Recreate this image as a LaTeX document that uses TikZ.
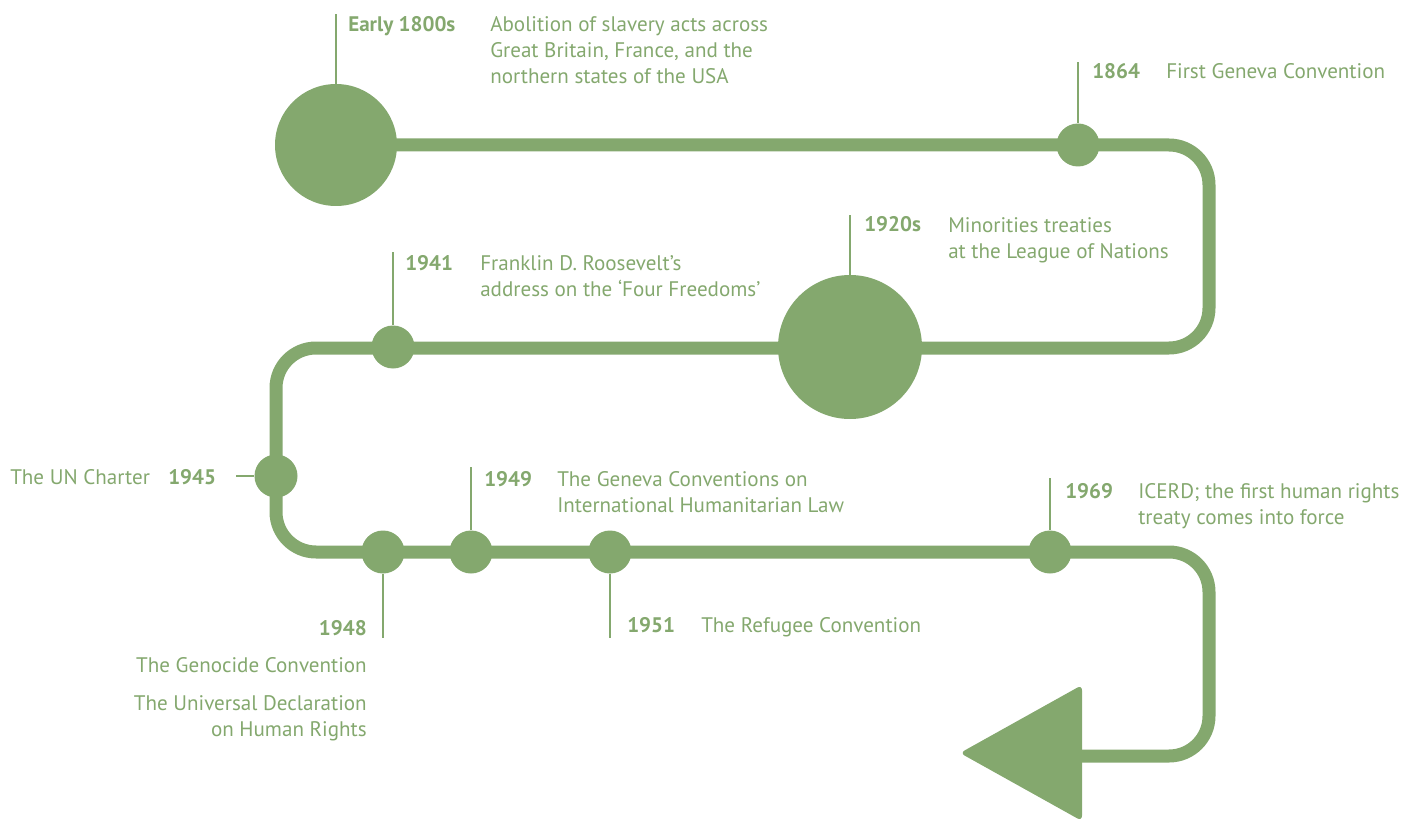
\documentclass[tikz,border=0pt]{standalone}
\usepackage{fontspec}
\setmainfont{PT Sans}
\usetikzlibrary{positioning}
\definecolor{tlgreen}{RGB}{132,168,110}

\begin{document}
\begin{tikzpicture}[x=0.75pt,y=-0.75pt,font=\fontsize{15.8}{19.5}\selectfont,
  track/.style={draw=tlgreen,line width=9.75pt,rounded corners=30pt},
  bigdot/.style={circle,fill=tlgreen,inner sep=0pt,minimum size=#1},
  dot/.style={bigdot=32.25pt},
  leader/.style={draw=tlgreen,line width=1.1pt},
  year/.style={text=tlgreen,font=\fontsize{15.8}{19.5}\selectfont\bfseries,inner sep=0pt,anchor=base west},
  desc/.style={text=tlgreen,inner sep=0pt,anchor=base west,align=left}
]
\useasboundingbox (0,0) rectangle (1410,820);

% the winding track
\draw[track] (336,145) -- (1209,145) -- (1209,348) -- (276,348)
  -- (276,552) -- (1209,552) -- (1209,756) -- (1070,756);
\fill[tlgreen,rounded corners=4pt] (1082,685) -- (1082,821) -- (960,753) -- cycle;

% dots on the track
\node[bigdot=91.5pt] (d1800) at (336,145) {};
\node[dot] (d1864) at (1078,145) {};
\node[bigdot=108pt] (d1920) at (850,347) {};
\node[dot] (d1941) at (393,347) {};
\node[dot] (d1945) at (276,476) {};
\node[dot] (d1948) at (383,552) {};
\node[dot] (d1949) at (471,552) {};
\node[dot] (d1951) at (610,552) {};
\node[dot] (d1969) at (1050,552) {};

% leader ends
\coordinate (l1800) at (336,14);
\coordinate (l1864) at (1078,62);
\coordinate (l1920) at (850,215);
\coordinate (l1941) at (393,252);
\coordinate (l1945) at (236,476);
\coordinate (l1948) at (383,638);
\coordinate (l1949) at (471,467);
\coordinate (l1951) at (610,638);
\coordinate (l1969) at (1050,478);

\draw[leader] (d1800.north) -- (l1800);
\draw[leader] (d1864.north) -- (l1864);
\draw[leader] (d1920.north) -- (l1920);
\draw[leader] (d1941.north) -- (l1941);
\draw[leader] (d1945.west) -- (l1945);
\draw[leader] (d1948.south) -- (l1948);
\draw[leader] (d1949.north) -- (l1949);
\draw[leader] (d1951.south) -- (l1951);
\draw[leader] (d1969.north) -- (l1969);

% years and events (multi-line texts sit on their last baseline)
\node[year] (y1800) at (348,32) {Early 1800s};
\node[desc] (e1800) at (490,84) {Abolition of slavery acts across\\Great Britain, France, and the\\northern states of the USA};

\node[year] (y1864) at (1092,79) {1864};
\node[desc] (e1864) at (1166,79) {First Geneva Convention};

\node[year] (y1920) at (864,232) {1920s};
\node[desc] (e1920) at (948,258) {Minorities treaties\\at the League of Nations};

\node[year] (y1941) at (405,270) {1941};
\node[desc] (e1941) at (480,296) {Franklin D. Roosevelt’s\\address on the ‘Four Freedoms’};

\node[desc] (e1945) at (10,484) {The UN Charter};
\node[year] (y1945) at (168,484) {1945};

\node[year,anchor=base east] (y1948) at (367,635) {1948};
\node[desc,anchor=base east] (e1948a) at (367,672) {The Genocide Convention};
\node[desc,anchor=base east,align=right] (e1948b) at (367,736) {The Universal Declaration\\on Human Rights};

\node[year] (y1949) at (484,486) {1949};
\node[desc] (e1949) at (557,512) {The Geneva Conventions on\\International Humanitarian Law};

\node[year] (y1951) at (627,632) {1951};
\node[desc] (e1951) at (701,632) {The Refugee Convention};

\node[year] (y1969) at (1065,498) {1969};
\node[desc] (e1969) at (1138,524) {ICERD; the first human rights\\treaty comes into force};

\end{tikzpicture}
\end{document}
